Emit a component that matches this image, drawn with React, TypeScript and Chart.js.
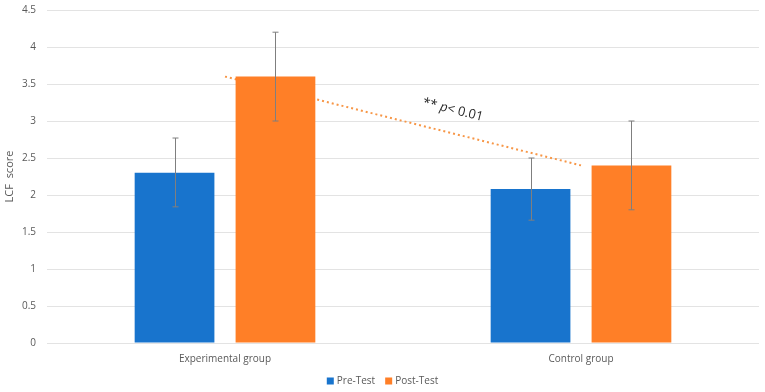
import React, { useEffect, useRef } from "react";
import { Chart, registerables } from "chart.js";

Chart.register(...registerables);

const categories = ["Experimental group", "Control group"];
const seriesNames = ["Pre-Test", "Post-Test"];
const seriesColors = ["#1874cd", "#ff7f27"];
const preTest = [2.3, 2.08];
const postTest = [3.6, 2.4];
const preLow = [1.84, 1.66];
const preHigh = [2.77, 2.5];
const postLow = [3.0, 1.8];
const postHigh = [4.2, 3.0];
const trendFrom = [0, 3.6];
const trendTo = [1, 2.4];
const annotationText = ["** ", "p", "< 0.01"];
const annotationAt = [0.64, 3.15];

const FONT = "'Open Sans', 'DejaVu Sans', sans-serif";

export default function App() {
  const ref = useRef<HTMLCanvasElement | null>(null);
  useEffect(() => {
    document.body.style.margin = "0";
    const errors = [
      { low: preLow, high: preHigh },
      { low: postLow, high: postHigh },
    ];
    const overlay = {
      id: "overlay",
      beforeDatasetsDraw(chart: any) {
        const ctx = chart.ctx;
        const y = chart.scales.y;
        const x = chart.scales.x;
        const x1 = x.getPixelForValue(trendFrom[0]);
        const y1 = y.getPixelForValue(trendFrom[1]);
        const x2 = x.getPixelForValue(trendTo[0]);
        const y2 = y.getPixelForValue(trendTo[1]);
        ctx.save();
        ctx.strokeStyle = "#f79646";
        ctx.lineWidth = 2;
        ctx.setLineDash([2, 3]);
        ctx.beginPath();
        ctx.moveTo(x1, y1);
        ctx.lineTo(x2, y2);
        ctx.stroke();
        ctx.restore();
        const ang = Math.atan2(y2 - y1, x2 - x1);
        const ax = x1 + (x2 - x1) * annotationAt[0];
        const ay = y.getPixelForValue(annotationAt[1]);
        ctx.save();
        ctx.translate(ax, ay);
        ctx.rotate(ang);
        ctx.fillStyle = "#262626";
        ctx.textBaseline = "middle";
        const fonts = [`13px ${FONT}`, `italic 13px ${FONT}`, `13px ${FONT}`];
        let total = 0;
        annotationText.forEach((t, i) => {
          ctx.font = fonts[i];
          total += ctx.measureText(t).width;
        });
        let cur = -total / 2;
        annotationText.forEach((t, i) => {
          ctx.font = fonts[i];
          ctx.fillText(t, cur, 0);
          cur += ctx.measureText(t).width;
        });
        ctx.restore();
      },
      afterDatasetsDraw(chart: any) {
        const ctx = chart.ctx;
        const y = chart.scales.y;
        ctx.save();
        ctx.strokeStyle = "#7f7f7f";
        ctx.lineWidth = 1;
        errors.forEach((e, di) => {
          const meta = chart.getDatasetMeta(di);
          meta.data.forEach((bar: any, i: number) => {
            const cx = Math.round(bar.x) + 0.5;
            const yt = y.getPixelForValue(e.high[i]);
            const yb = y.getPixelForValue(e.low[i]);
            ctx.beginPath();
            ctx.moveTo(cx, yt);
            ctx.lineTo(cx, yb);
            ctx.moveTo(cx - 3, yt);
            ctx.lineTo(cx + 3, yt);
            ctx.moveTo(cx - 3, yb);
            ctx.lineTo(cx + 3, yb);
            ctx.stroke();
          });
        });
        ctx.restore();
      },
      afterDraw(chart: any) {
        const ctx = chart.ctx;
        ctx.save();
        ctx.font = `10px ${FONT}`;
        ctx.textBaseline = "middle";
        const box = 7;
        const gapBoxText = 3;
        const gapItems = 10;
        const widths = seriesNames.map((n) => box + gapBoxText + ctx.measureText(n).width);
        const totalW = widths.reduce((a, b) => a + b, 0) + gapItems * (seriesNames.length - 1);
        let cx = chart.width / 2 - totalW / 2;
        const cy = chart.height - 11;
        seriesNames.forEach((n, i) => {
          ctx.fillStyle = seriesColors[i];
          ctx.fillRect(cx, cy - box / 2, box, box);
          ctx.fillStyle = "#595959";
          ctx.fillText(n, cx + box + gapBoxText, cy);
          cx += widths[i] + gapItems;
        });
        ctx.restore();
      },
    };
    const chart = new Chart(ref.current as HTMLCanvasElement, {
      type: "bar",
      data: {
        labels: categories,
        datasets: [
          {
            label: seriesNames[0],
            data: preTest,
            backgroundColor: seriesColors[0],
            borderWidth: 0,
            categoryPercentage: 0.567,
            barPercentage: 0.79,
          },
          {
            label: seriesNames[1],
            data: postTest,
            backgroundColor: seriesColors[1],
            borderWidth: 0,
            categoryPercentage: 0.567,
            barPercentage: 0.79,
          },
        ],
      },
      options: {
        animation: false,
        responsive: false,
        maintainAspectRatio: false,
        layout: { padding: { top: 10, right: 6, left: 3, bottom: 25 } },
        plugins: {
          tooltip: { enabled: false },
          legend: { display: false },
        },
        scales: {
          x: {
            grid: { display: false },
            border: { display: false },
            ticks: { color: "#595959", font: { family: FONT, size: 10 }, padding: 2 },
            afterFit(s: any) {
              s.height = 24;
              s.paddingLeft = 0;
              s.paddingRight = 0;
            },
          },
          y: {
            min: 0,
            max: 4.5,
            border: { display: false },
            grid: { color: "#e3e3e3", drawTicks: false },
            ticks: {
              stepSize: 0.5,
              color: "#595959",
              font: { family: FONT, size: 10 },
              padding: 11,
              callback: (v: any) => String(v),
            },
            title: {
              display: true,
              text: "LCF  score",
              color: "#595959",
              font: { family: FONT, size: 11 },
              padding: 0,
            },
            afterFit(s: any) {
              s.width = 44;
              s.paddingTop = 0;
              s.paddingBottom = 0;
            },
          },
        },
      },
      plugins: [overlay],
    });
    return () => chart.destroy();
  }, []);
  return (
    <div style={{ width: 765, height: 392 }}>
      <canvas ref={ref} width={765} height={392} style={{ width: 765, height: 392 }} />
    </div>
  );
}
